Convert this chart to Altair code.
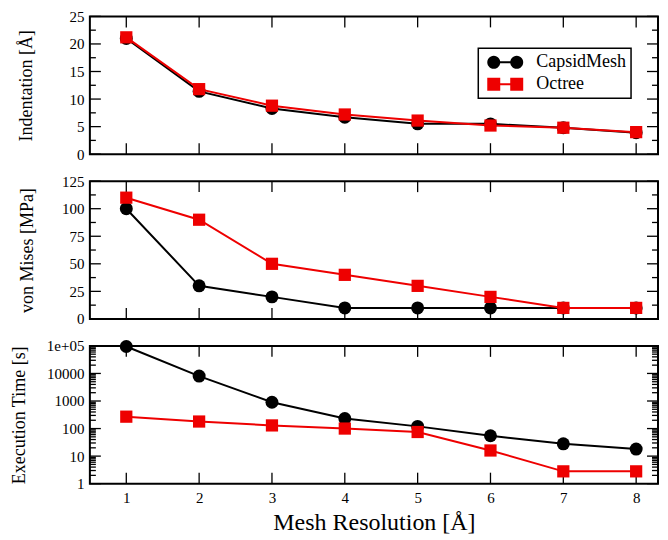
import math
import altair as alt
import pandas as pd

# ---------------- data ----------------
resolution = [1, 2, 3, 4, 5, 6, 7, 8]
series = ["CapsidMesh", "Octree"]

indent_capsid = [21.0, 11.4, 8.3, 6.7, 5.5, 5.5, 4.8, 3.9]
indent_octree = [21.2, 11.8, 8.8, 7.2, 6.1, 5.2, 4.8, 4.0]

vm_capsid = [100, 30, 20, 10, 10, 10, 10, 10]
vm_octree = [110, 90, 50, 40, 30, 20, 10, 10]

time_capsid = [95000, 8000, 900, 230, 120, 55, 28, 18]
time_octree = [270, 180, 130, 100, 75, 16, 2.8, 2.8]

x_ticks = [1, 2, 3, 4, 5, 6, 7, 8]
indent_major = [0, 5, 10, 15, 20, 25]
indent_minor = [2.5, 7.5, 12.5, 17.5, 22.5]
vm_major = [0, 25, 50, 75, 100, 125]
vm_minor = [12.5, 37.5, 62.5, 87.5, 112.5]
time_major = [1, 10, 100, 1000, 10000, 100000]
time_minor = [m * 10 ** k for k in range(5) for m in range(2, 10)]

# ---------------- styling ----------------
FONT = "Liberation Serif"
RED = "#ee0000"
W = 569
H = 138
MAJ = 11
MIN = 6


def poly(points):
    return "M" + " L".join(f"{x:.3f},{y:.3f}" for x, y in points) + " Z"


def circle(cx, r=1.0, n=28):
    return [(cx + r * math.cos(2 * math.pi * i / n), r * math.sin(2 * math.pi * i / n)) for i in range(n)]


def square(cx, r=1.0):
    return [(cx - r, -r), (cx + r, -r), (cx + r, r), (cx - r, r)]


bar = [(-1.77, -0.16), (1.77, -0.16), (1.77, 0.16), (-1.77, 0.16)]
legend_circle = poly(circle(-1.77)) + " " + poly(bar) + " " + poly(circle(1.77))
legend_square = poly(square(-1.77)) + " " + poly(bar) + " " + poly(square(1.77))

xscale = alt.Scale(domain=[0.5, 8.3], nice=False, zero=False)


def panel(capsid, octree, ytitle, yscale, major, minor, title_x, bottom=False,
          legend=False, label_expr=None):
    df = pd.DataFrame({
        "res": resolution * 2,
        "value": list(capsid) + list(octree),
        "series": [series[0]] * len(capsid) + [series[1]] * len(octree),
    })
    if bottom:
        xaxis = alt.Axis(values=x_ticks, ticks=False, tickSize=0, domain=False,
                         grid=False, labelPadding=7, format="d",
                         labelFont=FONT, titleFont=FONT,
                         labelFontSize=15, titleFontSize=24, titlePadding=5,
                         titleFontWeight="normal",
                         title="Mesh Resolution [Å]")
    else:
        xaxis = None
    yaxis_kw = dict(values=major, ticks=False, tickSize=0, domain=False,
                    grid=False, labelPadding=6, labelFontSize=15,
                    labelFont=FONT, titleFont=FONT,
                    title=ytitle, titleFontSize=18, titleX=title_x,
                    titleY=H / 2, titleAngle=270, titleAlign="center",
                    titleBaseline="middle", titleFontWeight="normal")
    if label_expr:
        yaxis_kw["labelExpr"] = label_expr
    yaxis = alt.Axis(**yaxis_kw)

    base = alt.Chart(df).encode(
        x=alt.X("res:Q", scale=xscale, axis=xaxis),
        y=alt.Y("value:Q", scale=yscale, axis=yaxis),
    )

    def rule_x(vals, y0, y1):
        d = pd.DataFrame({"res": vals})
        return alt.Chart(d).mark_rule(color="black", strokeWidth=1.3).encode(
            x=alt.X("res:Q", scale=xscale, axis=xaxis),
            y=alt.value(y0), y2=alt.value(y1))

    def rule_y(vals, x0, x1):
        d = pd.DataFrame({"value": vals})
        return alt.Chart(d).mark_rule(color="black", strokeWidth=1.3).encode(
            y=alt.Y("value:Q", scale=yscale, axis=yaxis),
            x=alt.value(x0), x2=alt.value(x1))

    layers = [
        rule_x(x_ticks, H, H - MAJ),
        rule_x(x_ticks, 0, MAJ),
        rule_y(major, 0, MAJ),
        rule_y(minor, 0, MIN),
        rule_y(major, W, W - MAJ),
        rule_y(minor, W, W - MIN),
        base.transform_filter(alt.datum.series == series[0]).mark_line(color="black", strokeWidth=2),
        base.transform_filter(alt.datum.series == series[0]).mark_point(
            shape="circle", filled=True, size=169, color="black", opacity=1),
        base.transform_filter(alt.datum.series == series[1]).mark_line(color=RED, strokeWidth=2),
        base.transform_filter(alt.datum.series == series[1]).mark_point(
            shape="square", filled=True, size=150, color=RED, opacity=1),
    ]
    if legend:
        leg = alt.Legend(title=None, orient="none", legendX=389, legendY=32,
                         labelFont=FONT, labelFontSize=18, labelColor="black",
                         strokeColor="black", fillColor="white", padding=5,
                         rowPadding=4, symbolOffset=13, labelOffset=22,
                         symbolOpacity=1, symbolStrokeWidth=0, symbolSize=169,
                         cornerRadius=0)
        layers.append(
            base.mark_point(filled=True, opacity=0, size=169).encode(
                color=alt.Color("series:N", scale=alt.Scale(domain=series, range=["black", RED]), legend=leg),
                shape=alt.Shape("series:N", scale=alt.Scale(domain=series, range=[legend_circle, legend_square]), legend=leg),
            )
        )
    return alt.layer(*layers).properties(width=W, height=H)


p1 = panel(indent_capsid, indent_octree, "Indentation [Å]",
           alt.Scale(domain=[0, 25], nice=False, zero=False),
           indent_major, indent_minor, -63, legend=True)
p2 = panel(vm_capsid, vm_octree, "von Mises [MPa]",
           alt.Scale(domain=[0, 125], nice=False, zero=False),
           vm_major, vm_minor, -62.5)
p3 = panel(time_capsid, time_octree, "Execution Time [s]",
           alt.Scale(type="log", domain=[1, 100000], nice=False),
           time_major, time_minor, -70, bottom=True,
           label_expr="datum.value >= 100000 ? '1e+05' : format(datum.value, 'd')")

chart = alt.vconcat(p1, p2, p3, spacing=27, bounds="flush").resolve_scale(
    color="independent", shape="independent"
).properties(
    padding={"left": 2, "top": 0, "right": 0, "bottom": 0},
    background="white",
).configure_view(
    stroke="black", strokeWidth=2
).configure_axis(
    labelFont=FONT, titleFont=FONT, labelColor="black", titleColor="black"
).configure_legend(
    strokeWidth=1.5
)

chart.save("out.html", embed_options={"renderer": "svg", "actions": False})
